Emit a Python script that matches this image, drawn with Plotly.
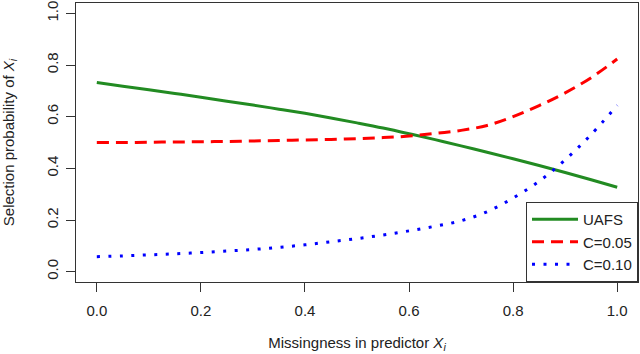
import plotly.graph_objects as go

# missingness proportion of predictor X_i
missingness = [0.00, 0.05, 0.10, 0.15, 0.20, 0.25, 0.30, 0.35, 0.40, 0.45, 0.50,
               0.55, 0.60, 0.65, 0.70, 0.75, 0.80, 0.85, 0.90, 0.95, 1.00]

# selection probabilities
uafs = [0.732, 0.718, 0.704, 0.690, 0.675, 0.660, 0.645, 0.629, 0.613, 0.595, 0.576,
        0.556, 0.534, 0.511, 0.487, 0.462, 0.437, 0.411, 0.384, 0.356, 0.327]
c_005 = [0.500, 0.500, 0.501, 0.502, 0.503, 0.504, 0.506, 0.508, 0.510, 0.512, 0.515,
         0.519, 0.525, 0.535, 0.547, 0.566, 0.600, 0.643, 0.692, 0.751, 0.823]
c_010 = [0.058, 0.061, 0.065, 0.069, 0.074, 0.080, 0.086, 0.094, 0.104, 0.116, 0.128,
         0.142, 0.158, 0.176, 0.197, 0.232, 0.285, 0.350, 0.433, 0.531, 0.644]

tick_vals = [0.0, 0.2, 0.4, 0.6, 0.8, 1.0]
tick_text = ['0.0', '0.2', '0.4', '0.6', '0.8', '1.0']

font_family = 'Liberation Sans, Arial, sans-serif'

fig = go.Figure()
fig.add_trace(go.Scatter(x=missingness, y=uafs, name='UAFS', mode='lines',
                         line=dict(color='#228B22', width=3, shape='spline')))
fig.add_trace(go.Scatter(x=missingness, y=c_005, name='C=0.05', mode='lines',
                         line=dict(color='#FF0000', width=3, dash='12px,7px', shape='spline')))
fig.add_trace(go.Scatter(x=missingness, y=c_010, name='C=0.10', mode='lines',
                         line=dict(color='#0000FF', width=3, dash='3px,8.5px', shape='spline')))

axis_common = dict(range=[-0.04, 1.04], showgrid=False, zeroline=False,
                   showline=True, linecolor='#333333', linewidth=1, mirror=True,
                   ticks='outside', ticklen=9, tickcolor='#333333', tickwidth=1,
                   tickvals=tick_vals, ticktext=tick_text, ticklabeloverflow='allow',
                   tickfont=dict(size=15, color='#222222', family=font_family))

fig.update_layout(
    width=640, height=354,
    margin=dict(l=76, r=1, t=1, b=72),
    paper_bgcolor='white', plot_bgcolor='white',
    font=dict(family=font_family, size=15, color='#222222'),
    xaxis=dict(axis_common, ticklabelstandoff=6,
               title=dict(text='Missingness in predictor <i>X</i><sub><i>i</i></sub>',
                          font=dict(size=15), standoff=19)),
    yaxis=dict(axis_common, tickangle=-90, ticklabelstandoff=2,
               title=dict(text='Selection probability of <i>X</i><sub><i>i</i></sub>',
                          font=dict(size=15), standoff=27)),
    showlegend=True,
    legend=dict(x=1, y=0, xanchor='right', yanchor='bottom',
                bordercolor='#333333', borderwidth=1, bgcolor='white',
                font=dict(size=15), tracegroupgap=0, itemwidth=46),
)

# drop the browser's default body margin so the figure sits at the page corner
fig.write_html('out.html', config={'displayModeBar': False},
               post_script="document.body.style.margin='0';")
